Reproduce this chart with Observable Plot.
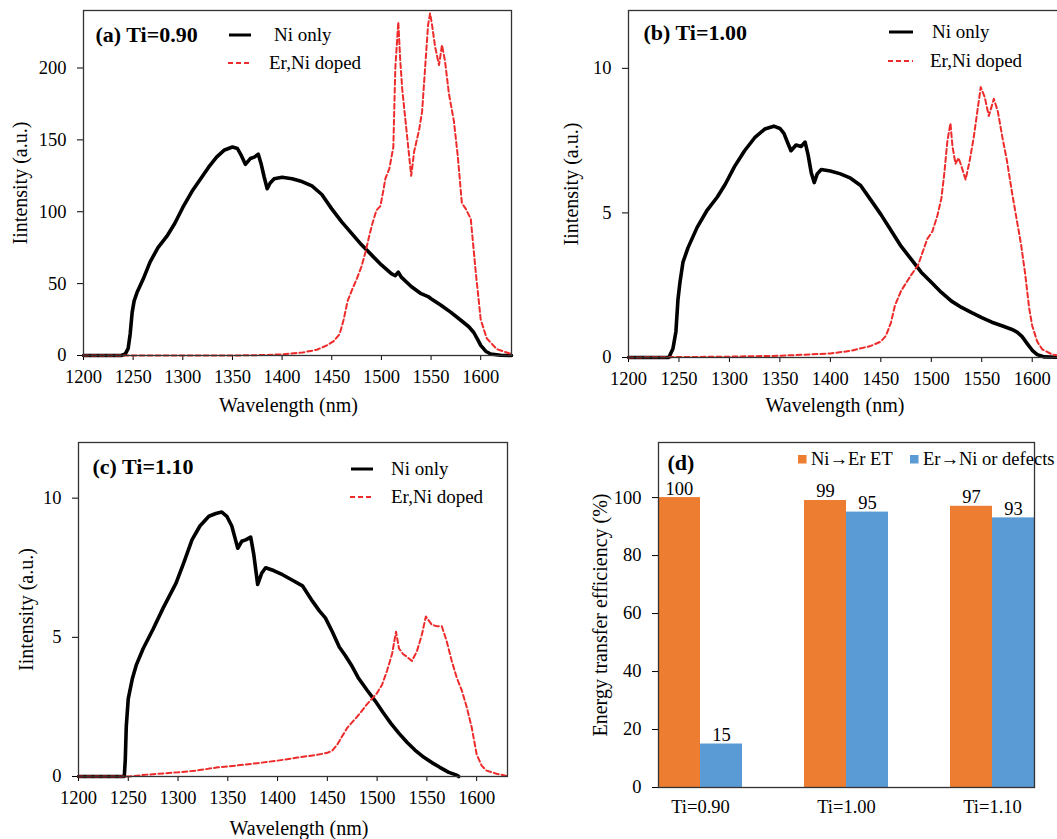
<!DOCTYPE html>
<html><head><meta charset="utf-8">
<script src="https://cdn.jsdelivr.net/npm/d3@7"></script>
<script src="https://cdn.jsdelivr.net/npm/@observablehq/plot@0.6"></script>
<style>
html,body{margin:0;padding:0;background:#fff;overflow:hidden;width:1057px;height:839px;}
#fig{position:relative;width:1057px;height:839px;overflow:hidden;font-family:"Liberation Serif","DejaVu Serif",serif;background:#fff;}
#fig svg, #fig svg text, #fig svg g{font-family:"Liberation Serif","DejaVu Serif",serif !important;}
.panel{position:absolute;}
#overlay{position:absolute;left:0;top:0;pointer-events:none;}
</style></head><body><div id="fig"></div>
<script>
// ---------- data (wavelength nm, intensity a.u.) ----------
const aNi = [[1200,0],[1238,0],[1242,1],[1245,5],[1247,15],[1249,30],[1251,38],[1254,44],[1260,53],[1267,65],[1275,75],[1284,83],[1292,92],[1300,103],[1310,115],[1318,123],[1326,131],[1334,138],[1342,143],[1350,145],[1355,144],[1359,139],[1363,133],[1368,137],[1372,138],[1376,140],[1379,133],[1382,124],[1385,116],[1388,120],[1392,123],[1400,124],[1410,123],[1420,121],[1430,118],[1440,112],[1450,102],[1460,93],[1470,85],[1480,77],[1490,70],[1500,63],[1510,57],[1514,55.5],[1517,58],[1520,54.5],[1530,48],[1540,43],[1547,41],[1550,39.5],[1560,35],[1570,30],[1580,24.5],[1588,20],[1593,16],[1597,11],[1600,7],[1605,3],[1610,1],[1620,0.2],[1631,0]];
const aEr = [[1200,0],[1350,0],[1380,0.3],[1400,0.8],[1420,2],[1435,4],[1445,7],[1452,10],[1458,15],[1462,25],[1466,38],[1470,45],[1475,53],[1480,62],[1484,72],[1488,84],[1491,92],[1495,101],[1499,104],[1502,115],[1504,123],[1508,130],[1512,145],[1514,200],[1517,232],[1519,205],[1521,185],[1524,165],[1527,145],[1530,125],[1533,142],[1538,157],[1541,170],[1544,200],[1547,230],[1549,238],[1551,230],[1554,215],[1558,202],[1561,216],[1564,205],[1568,182],[1573,163],[1577,138],[1581,106],[1585,102],[1590,95],[1595,58],[1600,25],[1606,12],[1616,4.5],[1630,1.2]];
const bNi = [[1200,0],[1240,0],[1244,0.3],[1247,0.9],[1249,2.0],[1251,2.6],[1254,3.3],[1259,3.8],[1268,4.5],[1278,5.1],[1288,5.55],[1296,6.0],[1305,6.6],[1315,7.15],[1325,7.6],[1335,7.9],[1344,8.0],[1350,7.92],[1354,7.75],[1358,7.4],[1361,7.15],[1366,7.35],[1371,7.3],[1375,7.45],[1378,7.0],[1381,6.4],[1384,6.05],[1387,6.35],[1391,6.5],[1400,6.45],[1410,6.35],[1420,6.2],[1430,5.95],[1440,5.45],[1450,4.95],[1460,4.4],[1470,3.85],[1480,3.4],[1490,2.95],[1500,2.6],[1510,2.25],[1520,1.95],[1530,1.73],[1540,1.55],[1550,1.38],[1560,1.22],[1570,1.1],[1580,0.97],[1585,0.88],[1590,0.72],[1595,0.48],[1600,0.25],[1605,0.1],[1612,0.02],[1631,0]];
const bEr = [[1200,0],[1300,0.03],[1350,0.06],[1400,0.14],[1420,0.23],[1440,0.4],[1450,0.55],[1455,0.75],[1460,1.2],[1464,1.8],[1470,2.3],[1480,2.85],[1487,3.2],[1492,3.7],[1496,4.1],[1501,4.35],[1506,4.9],[1510,5.5],[1513,6.4],[1516,7.5],[1519,8.1],[1521,7.3],[1524,6.7],[1527,6.9],[1530,6.6],[1534,6.15],[1538,6.8],[1542,7.6],[1546,8.6],[1549,9.35],[1553,9.0],[1557,8.35],[1562,8.95],[1566,8.5],[1570,7.7],[1575,6.8],[1580,5.7],[1585,4.7],[1589,3.9],[1593,2.9],[1597,1.7],[1600,1.1],[1605,0.55],[1610,0.28],[1620,0.1],[1631,0.05]];
const cNi = [[1200,0],[1246,0],[1247,0.6],[1248,1.8],[1250,2.8],[1254,3.5],[1258,4.0],[1265,4.6],[1275,5.3],[1285,6.05],[1298,6.95],[1306,7.7],[1314,8.5],[1322,9.0],[1331,9.35],[1338,9.45],[1344,9.5],[1349,9.35],[1354,9.0],[1357,8.6],[1360,8.2],[1364,8.45],[1368,8.5],[1373,8.6],[1376,8.0],[1380,6.9],[1384,7.3],[1388,7.5],[1396,7.4],[1405,7.25],[1415,7.05],[1425,6.85],[1435,6.3],[1442,5.95],[1448,5.7],[1455,5.2],[1462,4.65],[1468,4.35],[1475,3.95],[1481,3.55],[1490,3.1],[1498,2.72],[1506,2.3],[1514,1.9],[1522,1.55],[1530,1.23],[1538,0.95],[1547,0.69],[1555,0.5],[1563,0.33],[1572,0.15],[1580,0.05],[1582,0]];
const cEr = [[1200,0],[1250,0],[1270,0.07],[1300,0.15],[1320,0.22],[1340,0.33],[1360,0.4],[1380,0.48],[1400,0.57],[1420,0.68],[1440,0.78],[1450,0.85],[1455,0.93],[1460,1.15],[1470,1.75],[1480,2.15],[1490,2.6],[1500,3.0],[1505,3.3],[1510,3.8],[1515,4.4],[1519,5.2],[1522,4.6],[1526,4.4],[1530,4.3],[1535,4.15],[1540,4.5],[1545,5.1],[1549,5.75],[1555,5.45],[1560,5.4],[1565,5.4],[1570,4.85],[1575,4.15],[1580,3.55],[1585,3.1],[1590,2.5],[1595,1.77],[1600,0.8],[1605,0.39],[1610,0.21],[1620,0.1],[1630,0.02]];

// bar chart data
const groups = ["Ti=0.90", "Ti=1.00", "Ti=1.10"];
const seriesNames = ["Ni\u2192Er ET", "Er\u2192Ni or defects"];
const niToEr = [100, 99, 97];
const erToNi = [15, 95, 93];

// tick labels
const xTicks = [1200, 1250, 1300, 1350, 1400, 1450, 1500, 1550, 1600];
const yTicksA = [0, 50, 100, 150, 200];
const yTicksBC = [0, 5, 10];
const yTicksD = [0, 20, 40, 60, 80, 100];

// ---------- styles ----------
const FONT = "Liberation Serif, DejaVu Serif, serif";
const RED = "#ee2b2b";
const ORANGE = "#ED7D31";
const BLUE = "#5B9BD5";
const DASH = "5,3";
const fig = document.getElementById("fig");
const toRows = arr => arr.map(([nm, v]) => ({nm, v}));

function place(el, left, top, width) {
  const div = document.createElement("div");
  div.className = "panel";
  div.style.left = left + "px";
  div.style.top = top + "px";
  div.style.width = width + "px";
  div.appendChild(el);
  fig.appendChild(div);
}

function linePanel(o) {
  const p = Plot.plot({
    width: o.width, height: o.height,
    marginLeft: o.ml, marginTop: o.mt, marginRight: o.mr, marginBottom: o.mb,
    style: {fontFamily: FONT, fontSize: "18.5px", color: "#000", background: "transparent", maxWidth: "none", overflow: "visible"},
    x: {domain: [1200, 1631]},
    y: {domain: [0, o.ymax]},
    marks: [
      Plot.axisX({ticks: xTicks, tickSize: 5, tickPadding: 9, tickFormat: "d", label: null, fontSize: 18.5}),
      Plot.axisY({ticks: o.yticks, tickSize: 6, tickPadding: 11, tickFormat: "d", label: null, fontSize: 18.5}),
      Plot.line(toRows(o.ni), {x: "nm", y: "v", stroke: "#000", strokeWidth: 3.6, strokeLinejoin: "round"}),
      Plot.line(toRows(o.er), {x: "nm", y: "v", stroke: RED, strokeWidth: 2, strokeDasharray: DASH}),
      Plot.frame({stroke: "#333", strokeWidth: 1.3}),
      Plot.text([o.title], {text: d => d, frameAnchor: "top-left", dx: o.tdx, dy: o.tdy, textAnchor: "start", lineAnchor: "middle", fontWeight: "bold", fontSize: 22}),
      Plot.text(["Iintensity (a.u.)"], {text: d => d, frameAnchor: "left", rotate: -90, dx: o.ydx, textAnchor: "middle", lineAnchor: "middle", fontSize: 20}),
      Plot.text(["Wavelength (nm)"], {text: d => d, frameAnchor: "bottom", dx: o.xdx, dy: o.xdy, textAnchor: "middle", lineAnchor: "middle", fontSize: 20})
    ]
  });
  place(p, o.left, o.top, o.width);
}

linePanel({left: 0, top: 0, width: 521, height: 420, ml: 83, mt: 10, mr: 10, mb: 65,
  ymax: 240, yticks: yTicksA, ni: aNi, er: aEr, title: "(a) Ti=0.90", tdx: 12, tdy: 24, ydx: -63, xdx: -9, xdy: 50});
linePanel({left: 530, top: 0, width: 543, height: 420, ml: 98, mt: 10, mr: 10, mb: 63,
  ymax: 12, yticks: yTicksBC, ni: bNi, er: bEr, title: "(b) Ti=1.00", tdx: 15, tdy: 22, ydx: -57, xdx: -11, xdy: 48});
linePanel({left: 0, top: 420, width: 517, height: 419, ml: 78, mt: 22, mr: 10, mb: 63,
  ymax: 12, yticks: yTicksBC, ni: cNi, er: cEr, title: "(c) Ti=1.10", tdx: 14, tdy: 24, ydx: -52, xdx: 6, xdy: 52});

// ---------- bar chart ----------
const bars = groups.flatMap((g, i) => [
  {g, s: seriesNames[0], v: niToEr[i]},
  {g, s: seriesNames[1], v: erToNi[i]}
]);
const pd = Plot.plot({
  width: 545, height: 419, marginLeft: 97, marginTop: 22, marginRight: 10, marginBottom: 52,
  style: {fontFamily: FONT, fontSize: "18.5px", color: "#000", background: "transparent", maxWidth: "none", overflow: "visible"},
  fx: {domain: groups, paddingInner: 0.4247, paddingOuter: 0.2123, round: false, label: null},
  x: {domain: seriesNames, padding: 0, round: false, axis: null},
  y: {domain: [0, 119]},
  color: {domain: seriesNames, range: [ORANGE, BLUE]},
  marks: [
    Plot.barY(bars, {fx: "g", x: "s", y: "v", fill: "s"}),
    Plot.text(bars, {fx: "g", x: "s", y: "v", text: d => String(d.v), lineAnchor: "bottom", dy: -3, fontSize: 18.5}),
    Plot.frame({facet: "super", stroke: "#333", strokeWidth: 1.3}),
    Plot.axisY({ticks: yTicksD, tickSize: 6, tickPadding: 11, label: null, fontSize: 18.5}),
    Plot.axisFx({anchor: "bottom", tickSize: 0, tickPadding: 12, label: null, fontSize: 18.5}),
    Plot.text(["(d)"], {text: d => d, facet: "super", frameAnchor: "top-left", dx: 9, dy: 20, textAnchor: "start", lineAnchor: "middle", fontWeight: "bold", fontSize: 22}),
    Plot.text(["Energy transfer efficiency (%)"], {text: d => d, facet: "super", frameAnchor: "left", rotate: -90, dx: -58, textAnchor: "middle", lineAnchor: "middle", fontSize: 20})
  ]
});
place(pd, 530, 420, 545);

// ---------- legends (overlay) ----------
const ov = d3.select(fig).append("svg").attr("id", "overlay").attr("width", 1057).attr("height", 839)
  .attr("font-family", FONT).attr("font-size", 19);
const lineLegends = [
  {x1: 229, x2: 251, y: 35, tx: 274, label: "Ni only", dash: false},
  {x1: 228, x2: 250, y: 63, tx: 269, label: "Er,Ni doped", dash: true},
  {x1: 889, x2: 913, y: 32, tx: 932, label: "Ni only", dash: false},
  {x1: 888, x2: 913, y: 61, tx: 930, label: "Er,Ni doped", dash: true},
  {x1: 351, x2: 373, y: 469, tx: 391, label: "Ni only", dash: false},
  {x1: 350, x2: 373, y: 497, tx: 391, label: "Er,Ni doped", dash: true}
];
for (const L of lineLegends) {
  ov.append("line").attr("x1", L.x1).attr("x2", L.x2).attr("y1", L.y).attr("y2", L.y)
    .attr("stroke", L.dash ? RED : "#000").attr("stroke-width", L.dash ? 2.2 : 3)
    .attr("stroke-dasharray", L.dash ? DASH : null);
  ov.append("text").attr("x", L.tx).attr("y", L.y).attr("dy", "0.33em").text(L.label);
}
const swatches = [
  {x: 798, y: 455, tx: 811, label: seriesNames[0], color: ORANGE},
  {x: 910, y: 455, tx: 923, label: seriesNames[1], color: BLUE}
];
for (const S of swatches) {
  ov.append("rect").attr("x", S.x).attr("y", S.y).attr("width", 8.5).attr("height", 8.5).attr("fill", S.color);
  ov.append("text").attr("x", S.tx).attr("y", S.y + 4).attr("dy", "0.33em").attr("font-size", 18.5).text(S.label);
}
</script>
</body></html>
